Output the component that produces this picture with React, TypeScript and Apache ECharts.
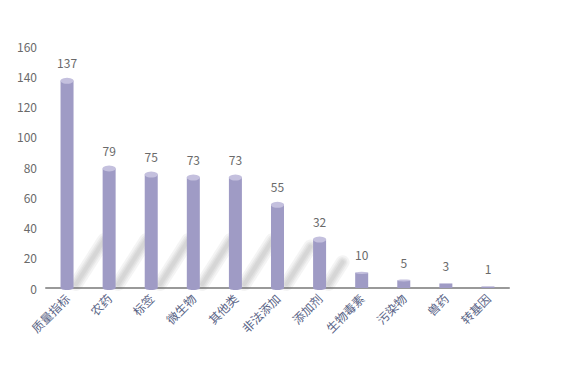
import React, { useEffect, useRef } from "react";
import * as echarts from "echarts";

const categories = ["质量指标", "农药", "标签", "微生物", "其他类", "非法添加", "添加剂", "生物毒素", "污染物", "兽药", "转基因"];
const values = [137, 79, 75, 73, 73, 55, 32, 10, 5, 3, 1];
const yMax = 160;
const yInterval = 20;

const FONT = "'Microsoft YaHei', 'Noto Sans CJK SC', sans-serif";

export default function App() {
  const ref = useRef<HTMLDivElement>(null);
  useEffect(() => {
    if (!ref.current) return;
    const chart = echarts.init(ref.current, null, { renderer: "svg" });
    const barColor = "#9f9bc5";
    chart.setOption({
      animation: false,
      grid: { left: 38, right: 59, top: 38, bottom: 69 },
      xAxis: {
        type: "category",
        data: categories,
        axisLine: { show: true, lineStyle: { color: "#999", width: 2 } },
        axisTick: { show: false },
        axisLabel: {
          rotate: 45,
          interval: 0,
          color: "#5a6486",
          fontFamily: FONT,
          fontSize: 12,
          margin: 8,
          textShadowColor: "rgba(200,140,80,0.45)",
          textShadowOffsetX: 0.6,
          textShadowOffsetY: 0,
        },
      },
      yAxis: {
        type: "value",
        min: 0,
        max: yMax,
        interval: yInterval,
        axisLine: { show: false },
        axisTick: { show: false },
        splitLine: { show: false },
        axisLabel: { color: "#6a6a6a", fontFamily: FONT, fontSize: 12, margin: 9 },
      },
      series: [
        {
          type: "custom",
          z: 1,
          silent: true,
          renderItem: (params: any, api: any) => {
            const v = api.value(1);
            const len = Math.min(v * 0.45, 29);
            if (len < 6) return null;
            const base = api.coord([api.value(0), 0]);
            const top = api.coord([api.value(0), len]);
            const dy = base[1] - top[1];
            const x0 = base[0] + 9;
            const y0 = base[1] - 4;
            const shape = { x1: x0, y1: y0, x2: x0 + dy * 0.64, y2: y0 - dy };
            const widths = [14, 10, 7, 4];
            return {
              type: "group",
              children: widths.map((w) => ({
                type: "line",
                shape,
                style: { stroke: "rgba(110,110,110,0.075)", lineWidth: w, lineCap: "round" },
              })),
            };
          },
          data: values.map((v, i) => [i, v]),
        },
        {
          type: "bar",
          z: 2,
          data: values,
          barWidth: 13,
          itemStyle: { color: barColor },
          label: {
            show: true,
            position: "top",
            distance: 12,
            color: "#6a6a6a",
            fontFamily: FONT,
            fontSize: 12,
          },
        },
        {
          type: "pictorialBar",
          z: 3,
          symbol: "circle",
          symbolPosition: "end",
          symbolOffset: [0, "-50%"],
          data: values.map((v) => ({ value: v, symbolSize: [13, v >= 20 ? 6 : v >= 5 ? 2 : 0] })),
          itemStyle: { color: "#c4c0de" },
          silent: true,
        },
        {
          type: "pictorialBar",
          z: 1,
          symbol: "circle",
          symbolPosition: "start",
          symbolOffset: [0, "50%"],
          data: values.map((v) => ({ value: v, symbolSize: [13, v >= 20 ? 4 : 0] })),
          itemStyle: { color: barColor },
          silent: true,
        },
      ],
    });
    return () => chart.dispose();
  }, []);
  return <div ref={ref} style={{ width: 560, height: 349 }} />;
}
